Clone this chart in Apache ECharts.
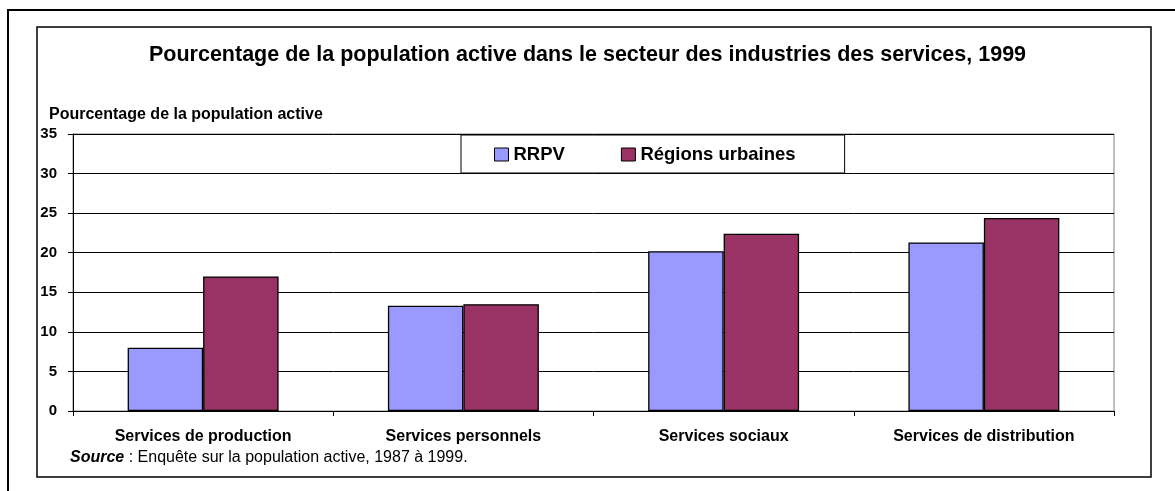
<!DOCTYPE html>
<html lang="fr">
<head>
<meta charset="utf-8">
<title>Pourcentage de la population active</title>
<script src="https://cdn.jsdelivr.net/npm/echarts@6/dist/echarts.min.js"></script>
<style>
  html, body { margin: 0; padding: 0; background: #fff; }
  #chart { width: 1175px; height: 491px; }
</style>
</head>
<body>
<div id="chart"></div>
<script>
// données
const categories = [
  "Services de production",
  "Services personnels",
  "Services sociaux",
  "Services de distribution",
];
const seriesNames = ["RRPV", "Régions urbaines"];
const rrpvData = [8.0, 13.3, 20.2, 21.3];
const urbainData = [17.0, 13.5, 22.4, 24.4];
const yMin = 0;
const yMax = 35;
const yStep = 5;

const FONT = 'Arial, "Liberation Sans", sans-serif';

const chart = echarts.init(document.getElementById("chart"));

const option = {
  animation: false,
  backgroundColor: "#fff",
  title: [
    {
      text: "Pourcentage de la population active dans le secteur des industries des services, 1999",
      left: "center",
      top: 44,
      padding: 0,
      textStyle: { fontFamily: FONT, fontSize: 21.5, fontWeight: "bold", color: "#000" },
    },
    {
      // titre de l'axe des y
      text: "Pourcentage de la population active",
      left: 49,
      top: 107,
      padding: 0,
      textStyle: { fontFamily: FONT, fontSize: 16, fontWeight: "bold", color: "#000" },
    },
  ],
  legend: {
    data: seriesNames,
    left: 461,
    top: 135,
    padding: [10, 49, 9, 33],
    itemGap: 56,
    itemWidth: 14,
    itemHeight: 13,
    icon: "rect",
    backgroundColor: "#fff",
    borderColor: "#000",
    borderWidth: 1,
    itemStyle: { borderColor: "#000", borderWidth: 1 },
    textStyle: { fontFamily: FONT, fontSize: 18.5, fontWeight: "bold", color: "#000" },
  },
  grid: {
    left: 73,
    right: 61,
    top: 134,
    bottom: 80,
    show: true,
    borderColor: "#808080",
    borderWidth: 1,
  },
  xAxis: {
    type: "category",
    data: categories,
    axisLine: { lineStyle: { color: "#000", width: 1 } },
    axisTick: { show: true, length: 5, lineStyle: { color: "#000" } },
    axisLabel: {
      margin: 18,
      fontFamily: FONT,
      fontSize: 16,
      fontWeight: "bold",
      color: "#000",
    },
  },
  yAxis: {
    type: "value",
    min: yMin,
    max: yMax,
    interval: yStep,
    axisLine: { show: true, lineStyle: { color: "#000", width: 1 } },
    axisTick: { show: true, length: 5, lineStyle: { color: "#000" } },
    axisLabel: {
      margin: 16,
      fontFamily: FONT,
      fontSize: 15,
      fontWeight: "bold",
      color: "#000",
    },
    splitLine: { lineStyle: { color: "#000", width: 1 } },
  },
  series: [
    {
      name: seriesNames[0],
      type: "bar",
      data: rrpvData,
      barGap: "0%",
      barCategoryGap: "42%",
      itemStyle: { color: "#9999FF", borderColor: "#000", borderWidth: 1.3 },
    },
    {
      name: seriesNames[1],
      type: "bar",
      data: urbainData,
      itemStyle: { color: "#993366", borderColor: "#000", borderWidth: 1.3 },
    },
  ],
  graphic: [
    // cadre extérieur
    {
      type: "rect",
      shape: { x: 8, y: 10, width: 1200, height: 520 },
      style: { fill: "none", stroke: "#000", lineWidth: 2 },
      silent: true,
    },
    // cadre intérieur
    {
      type: "rect",
      shape: { x: 37, y: 27, width: 1114, height: 450 },
      style: { fill: "none", stroke: "#000", lineWidth: 1.5 },
      silent: true,
    },
    // source
    {
      type: "text",
      left: 70,
      top: 450,
      style: {
        text: "{b|Source} : Enquête sur la population active, 1987 à 1999.",
        fontFamily: FONT,
        fontSize: 16,
        fill: "#000",
        rich: {
          b: { fontFamily: FONT, fontSize: 16, fontWeight: "bold", fontStyle: "italic", fill: "#000" },
        },
      },
    },
  ],
};

chart.setOption(option);

// adaptation à la fenêtre
window.addEventListener("resize", () => chart.resize());
</script>
</body>
</html>
